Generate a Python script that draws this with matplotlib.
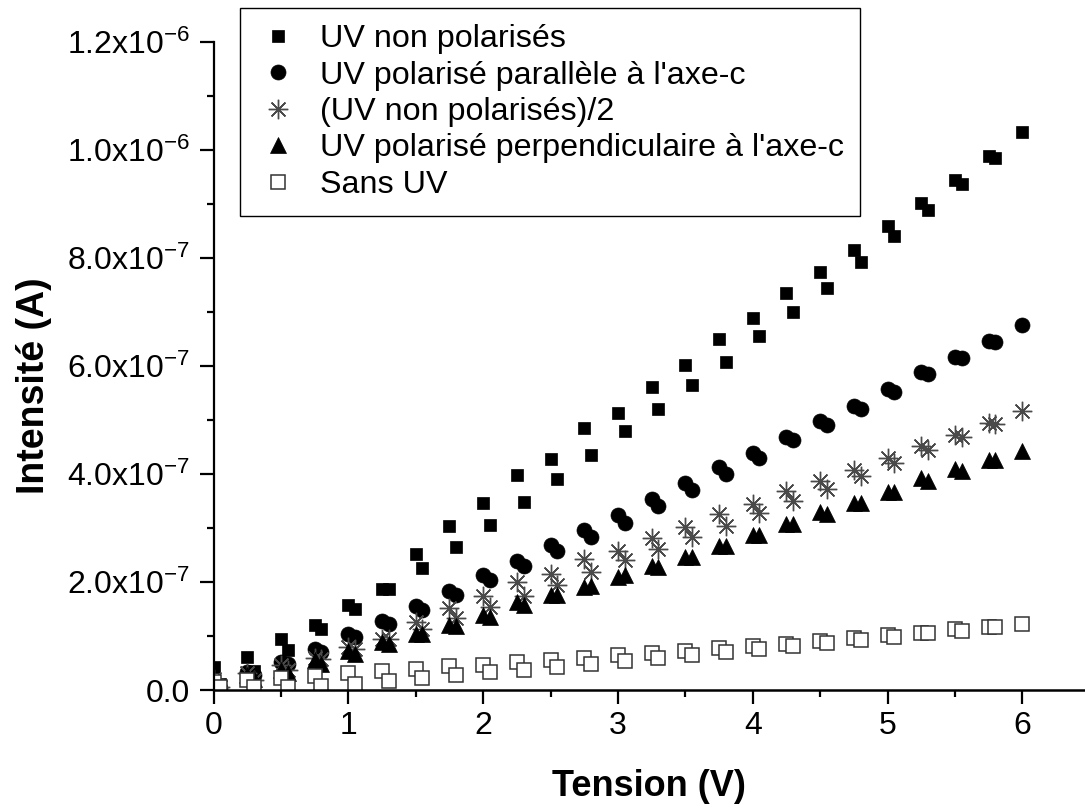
import matplotlib
matplotlib.use("Agg")
import matplotlib.pyplot as plt
from matplotlib.ticker import MultipleLocator, FixedLocator

plt.rcParams['font.family'] = ['Liberation Sans', 'DejaVu Sans']
plt.rcParams['mathtext.fontset'] = 'custom'
plt.rcParams['mathtext.rm'] = 'Liberation Sans'
plt.rcParams['mathtext.it'] = 'Liberation Sans:italic'
plt.rcParams['mathtext.bf'] = 'Liberation Sans:bold'

# Applied voltage (V): two sweeps, the second shifted by 0.05 V
tension = [0.0, 0.05, 0.25, 0.30, 0.50, 0.55, 0.75, 0.80, 1.00, 1.05,
           1.25, 1.30, 1.50, 1.55, 1.75, 1.80, 2.00, 2.05, 2.25, 2.30,
           2.50, 2.55, 2.75, 2.80, 3.00, 3.05, 3.25, 3.30, 3.50, 3.55,
           3.75, 3.80, 4.00, 4.05, 4.25, 4.30, 4.50, 4.55, 4.75, 4.80,
           5.00, 5.05, 5.25, 5.30, 5.50, 5.55, 5.75, 5.80, 6.00]

# Currents in units of 1e-7 A
uv_non_pol = [0.42, 0.11, 0.61, 0.35, 0.94, 0.74, 1.20, 1.13, 1.57, 1.50,
              1.87, 1.87, 2.51, 2.25, 3.03, 2.65, 3.47, 3.06, 3.98, 3.48,
              4.28, 3.90, 4.85, 4.35, 5.13, 4.79, 5.61, 5.21, 6.02, 5.65,
              6.49, 6.08, 6.89, 6.56, 7.35, 6.99, 7.74, 7.44, 8.15, 7.93,
              8.59, 8.41, 9.01, 8.88, 9.44, 9.36, 9.89, 9.85, 10.33]

uv_parallele = [0.10, 0.04, 0.34, 0.28, 0.52, 0.48, 0.75, 0.71, 1.04, 0.98,
                1.28, 1.22, 1.56, 1.48, 1.83, 1.75, 2.12, 2.03, 2.39, 2.30,
                2.69, 2.57, 2.96, 2.83, 3.24, 3.10, 3.54, 3.41, 3.84, 3.71,
                4.12, 4.00, 4.39, 4.30, 4.69, 4.62, 4.97, 4.90, 5.26, 5.20,
                5.57, 5.51, 5.88, 5.84, 6.17, 6.15, 6.46, 6.45, 6.75]

uv_non_pol_demi = [0.21, 0.06, 0.31, 0.18, 0.47, 0.37, 0.60, 0.57, 0.79, 0.75,
                   0.94, 0.94, 1.26, 1.13, 1.52, 1.33, 1.74, 1.53, 1.99, 1.74,
                   2.14, 1.95, 2.43, 2.18, 2.57, 2.40, 2.81, 2.61, 3.01, 2.83,
                   3.25, 3.04, 3.45, 3.28, 3.68, 3.50, 3.87, 3.72, 4.08, 3.97,
                   4.30, 4.21, 4.51, 4.44, 4.72, 4.68, 4.95, 4.93, 5.17]

uv_perpendiculaire = [0.05, 0.02, 0.27, 0.20, 0.37, 0.31, 0.56, 0.49, 0.73, 0.66,
                      0.88, 0.86, 1.03, 1.03, 1.20, 1.19, 1.38, 1.35, 1.62, 1.57,
                      1.75, 1.75, 1.91, 1.93, 2.09, 2.12, 2.30, 2.28, 2.47, 2.47,
                      2.67, 2.67, 2.86, 2.86, 3.07, 3.07, 3.30, 3.26, 3.47, 3.47,
                      3.67, 3.66, 3.92, 3.86, 4.09, 4.06, 4.26, 4.25, 4.43]

sans_uv = [0.15, 0.05, 0.19, 0.06, 0.22, 0.05, 0.26, 0.08, 0.31, 0.11,
           0.35, 0.17, 0.39, 0.22, 0.45, 0.27, 0.46, 0.33, 0.51, 0.37,
           0.56, 0.42, 0.60, 0.48, 0.64, 0.54, 0.68, 0.59, 0.73, 0.65,
           0.77, 0.70, 0.81, 0.76, 0.86, 0.82, 0.91, 0.87, 0.96, 0.93,
           1.01, 0.98, 1.06, 1.06, 1.12, 1.10, 1.17, 1.17, 1.22]

labels = ["UV non polarisés",
          "UV polarisé parallèle à l'axe-c",
          "(UV non polarisés)/2",
          "UV polarisé perpendiculaire à l'axe-c",
          "Sans UV"]

y_ticks = [0.0, 2e-7, 4e-7, 6e-7, 8e-7, 1.0e-6, 1.2e-6]
y_tick_labels = ["0.0", r"2.0x10$^{\mathregular{-7}}$", r"4.0x10$^{\mathregular{-7}}$",
                 r"6.0x10$^{\mathregular{-7}}$", r"8.0x10$^{\mathregular{-7}}$",
                 r"1.0x10$^{\mathregular{-6}}$", r"1.2x10$^{\mathregular{-6}}$"]


def amps(vals):
    return [v * 1e-7 for v in vals]


W, H = 1085, 811
fig = plt.figure(figsize=(W / 100, H / 100), dpi=100)
ax = fig.add_axes([213.5 / W, (H - 690) / H, (W - 213.5) / W, (690 - 41.7) / H])

ax.plot(tension, amps(uv_non_pol), linestyle='none', marker='s', ms=9.3,
        mfc='black', mec='black', mew=0.5, label=labels[0])
ax.plot(tension, amps(uv_parallele), linestyle='none', marker='o', ms=10.8,
        mfc='black', mec='black', mew=0.5, label=labels[1])
ax.plot(tension, amps(uv_non_pol_demi), linestyle='none', marker=(8, 2, 0), ms=14,
        mfc='none', mec='#4a4a4a', mew=1.0, label=labels[2])
ax.plot(tension, amps(uv_perpendiculaire), linestyle='none', marker='^', ms=12,
        mfc='black', mec='black', mew=0.5, label=labels[3])
ax.plot(tension, amps(sans_uv), linestyle='none', marker='s', ms=9.5,
        mfc='white', mec='#333333', mew=1.1, label=labels[4])

ax.set_xlim(0, (W - 213.5) / 134.8)
ax.set_ylim(0, 1.2e-6)

ax.spines['top'].set_visible(False)
ax.spines['right'].set_visible(False)
ax.spines['left'].set_linewidth(1.6)
ax.spines['bottom'].set_linewidth(1.8)

ax.xaxis.set_major_locator(MultipleLocator(1))
ax.xaxis.set_minor_locator(MultipleLocator(0.5))
ax.yaxis.set_major_locator(FixedLocator(y_ticks))
ax.yaxis.set_minor_locator(MultipleLocator(1e-7))
ax.set_yticklabels(y_tick_labels)

ax.tick_params(which='major', direction='out', length=10, width=1.6,
               labelsize=23, pad=5)
ax.tick_params(which='minor', direction='out', length=5, width=1.6)
ax.tick_params(axis='y', which='major', pad=7)

ax.set_xlabel("Tension (V)", fontsize=26, fontweight='bold', labelpad=20)
ax.set_ylabel("Intensité (A)", fontsize=27, fontweight='bold')
ax.yaxis.set_label_coords(-0.185, 0.47)

leg = ax.legend(loc='upper left', bbox_to_anchor=(240 / W, 1 - 8 / H),
                bbox_transform=fig.transFigure, borderaxespad=0,
                fontsize=23.2, frameon=True, fancybox=False, edgecolor='black',
                framealpha=1, labelspacing=0.2, handletextpad=0.62,
                handlelength=1.35, borderpad=0.5, numpoints=1)
leg.get_frame().set_linewidth(1.0)

fig.savefig("out.png", dpi=100)
